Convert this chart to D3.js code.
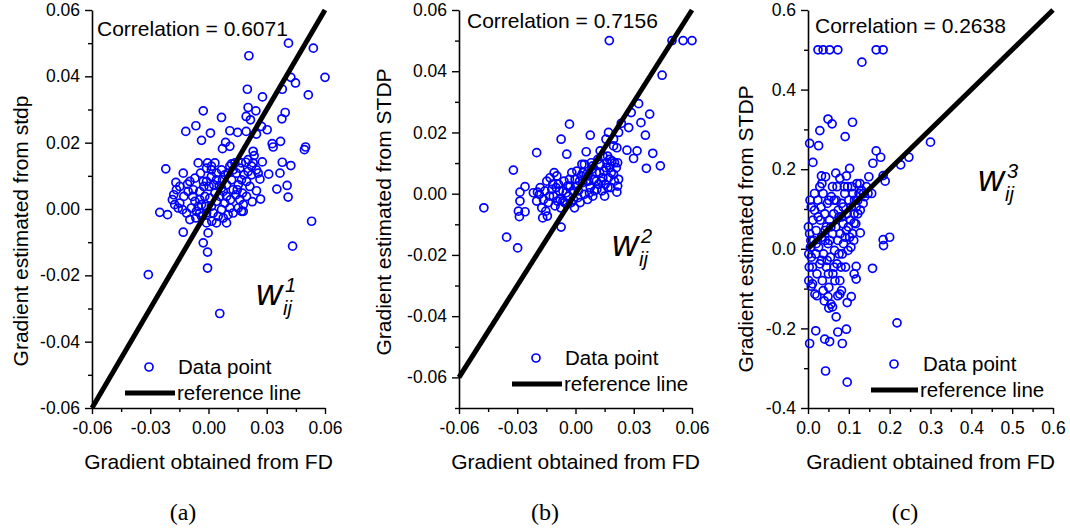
<!DOCTYPE html>
<html>
<head>
<meta charset="utf-8">
<script src="https://cdn.jsdelivr.net/npm/d3@7"></script>
<style>
  body { margin: 0; background: #fff; }
  text { font-family: "Liberation Sans", Arial, sans-serif; fill: #000; }
  .tick-label { font-size: 17.5px; }
  .axis-title { font-size: 21px; }
  .corr { font-size: 21px; }
  .legend { font-size: 20.5px; }
  .panel-tag { font-family: "Liberation Serif", "Times New Roman", serif; font-size: 24px; }
  .wlab { font-style: italic; }
</style>
</head>
<body>
<div id="chart"></div>
<script>
// data points: [gradient from FD, gradient estimated]
const pointsA = [
  [0.0412,0.050],[0.054,0.0485],[0.0208,0.0462],[0.060,0.0397],[0.0424,0.0397],[0.0448,0.038],
  [0.020,0.0361],[0.038,0.0361],[0.0514,0.0344],[0.0278,0.0338],[-0.0027,0.0296],[0.0395,0.0291],
  [0.0204,0.0306],[0.0244,0.0296],[0.0378,0.0272],[0.0067,0.0276],[0.0194,0.0279],[0.0216,0.0269],
  [-0.0065,0.0251],[-0.0117,0.0234],[0.001,0.0229],[0.011,0.0236],[0.015,0.0231],[0.0194,0.0234],
  [0.0273,0.0249],[0.0302,0.0239],[0.0247,0.0226],[-0.0036,0.0207],[0.0088,0.0201],[0.0072,0.0182],
  [0.011,0.0189],[0.0328,0.0197],[0.0371,0.0204],[0.0333,0.0187],[0.050,0.0187],[0.0494,0.0179],
  [0.023,0.0174],[0.0235,0.0161],[-0.022,0.0121],[-0.0053,0.0139],[-0.0005,0.0139],[0.0119,0.0136],
  [0.0192,0.0141],[0.0277,0.0142],[0.038,0.0141],[0.0424,0.0131],[0.031,0.0105],[0.0368,0.0108],
  [-0.013,0.0108],[-0.0168,0.008],[-0.0108,0.0075],[0.0265,0.009],[0.0405,0.0071],[0.0352,0.006],
  [0.0247,0.0055],[0.041,0.0036],[0.0268,0.003],[0.0225,0.0022],[-0.0186,0.0028],[-0.0174,0.0013],
  [-0.0251,-0.001],[-0.0211,-0.0017],[-0.013,-0.007],[0.0531,-0.0037],[-0.0027,-0.0102],[-0.0005,-0.013],
  [-0.0005,-0.0178],[-0.0002,-0.0072],[0.0433,-0.0112],[-0.031,-0.0198],[0.0058,-0.0315],[0.0017,-0.0037],
  [0.0179,-0.0007],[0.0101,-0.0017],[0.0067,-0.0002],
  [-0.0148,0.0068],[-0.0105,0.0053],[-0.0082,0.0038],[-0.0070,0.0023],[-0.0053,0.0008],[-0.0045,0.0053],
  [-0.0024,0.0068],[-0.0010,0.0083],[0.0015,0.0098],[0.0041,0.0088],[0.0055,0.0070],[0.0076,0.0053],
  [0.0093,0.0038],[0.0113,0.0028],[0.0127,0.0058],[0.0153,0.0073],[0.0170,0.0088],[0.0196,0.0083],
  [0.0213,0.0068],[0.0141,0.0043],[0.0161,0.0028],[0.0179,0.0013],[0.0101,0.0108],[0.0127,0.0118],
  [0.0161,0.0123],[0.0067,0.0118],[0.0041,0.0108],[0.0015,0.0118],[-0.0010,0.0123],[-0.0041,0.0108],
  [-0.0070,0.0093],[-0.0096,0.0083],[-0.0127,0.0038],[-0.0148,0.0018],[-0.0134,-0.0002],[-0.0113,-0.0012],
  [-0.0088,0.0003],[-0.0062,-0.0007],[-0.0036,-0.0022],[-0.0010,-0.0012],[0.0015,0.0008],[0.0041,0.0023],
  [0.0058,0.0038],[0.0084,0.0018],[0.0110,0.0003],[0.0033,0.0048],[0.0007,0.0033],[-0.0019,0.0038],
  [-0.0045,0.0028],[-0.0079,0.0058],[-0.0027,0.0083],[0.0003,0.0068],[0.0027,0.0073],[0.0072,0.0088],
  [0.0093,0.0073],[0.0119,0.0088],[0.0144,0.0108],[0.0182,0.0103],[0.0204,0.0113],[0.0230,0.0139],
  [0.0247,0.0118],[0.0222,0.0103],[-0.0045,-0.0012],[-0.0065,-0.0027],[-0.0096,-0.0032],[-0.0156,0.0003],
  [-0.0179,0.0043],[-0.0165,0.0058],[0.0024,-0.0012],[0.0050,-0.0022],[0.0076,-0.0027],[0.0127,-0.0012],
  [0.0153,0.0003],[0.0170,-0.0007],[0.0093,-0.0042],[0.0041,-0.0042],[-0.0010,-0.0042],[-0.0036,0.0013],
  [-0.0014,0.0008],[0.0067,0.0063],[0.0084,0.0103],[0.0110,0.0129],[0.0136,0.0139],[0.0170,0.0139],
  [0.0204,0.0149],[0.0222,0.0129],[0.0256,0.0108],[0.0196,0.0038],[0.0175,0.0048],[0.0148,0.0058],
  [0.0015,0.0129],[0.0033,0.0139]
];

const pointsB = [
  [0.0174,0.050],[0.0497,0.050],[0.0554,0.050],[0.060,0.050],[0.0446,0.0387],[0.0325,0.0294],
  [0.0287,0.0265],[0.0382,0.0260],[0.0236,0.0230],[0.0337,0.0232],[0.0274,0.0216],[0.0360,0.0191],
  [-0.0031,0.0227],[-0.0074,0.0178],[0.0076,0.0191],[0.0157,0.0178],[-0.0200,0.0134],[0.0055,0.0137],
  [0.0127,0.0140],[0.0213,0.0150],[0.0265,0.0142],[0.0317,0.0140],[0.0398,0.0132],[0.0299,0.0115],
  [0.0365,0.0083],[0.0437,0.0091],[-0.0320,0.0077],[-0.0260,0.0023],[-0.0286,0.0005],[-0.0286,-0.0024],
  [-0.0294,-0.0057],[-0.0289,-0.0075],[-0.0260,-0.0059],[-0.0472,-0.0046],[-0.0355,-0.0142],[-0.0298,-0.0177],
  [-0.0074,-0.0109],[-0.0169,-0.0079],[-0.0145,-0.0073],[-0.0045,0.0129],[0.0213,0.0005],[0.0217,0.0025],
  [0.0222,0.0047],[0.0217,0.0101],[0.0196,0.0156],[0.0170,0.0200],[0.0222,0.0200],[0.0196,0.0178],
  [-0.0217,0.0003],[-0.0200,-0.0024],[-0.0186,-0.0002],[-0.0165,-0.0019],[-0.0148,0.0041],[-0.0139,-0.0029],
  [-0.0122,0.0014],[-0.0114,-0.0008],[-0.0105,-0.0040],[-0.0096,0.0058],[-0.0088,0.0031],[-0.0079,-0.0019],
  [-0.0065,0.0009],[-0.0059,0.0041],[-0.0045,-0.0035],[-0.0036,-0.0008],[-0.0028,0.0025],[-0.0019,0.0069],
  [-0.0010,-0.0019],[-0.0002,0.0047],[0.0007,0.0074],[0.0015,0.0009],[0.0024,-0.0029],[0.0033,0.0096],
  [0.0038,0.0036],[0.0045,-0.0002],[0.0055,0.0063],[0.0062,-0.0019],[0.0067,0.0041],[0.0076,0.0020],
  [0.0084,0.0080],[0.0089,-0.0008],[0.0096,0.0047],[0.0107,0.0069],[0.0110,0.0014],[0.0119,0.0031],
  [0.0127,0.0096],[0.0136,0.0009],[0.0141,0.0052],[0.0148,0.0074],[0.0153,0.0031],[0.0162,0.0101],
  [0.0165,0.0123],[0.0170,0.0052],[0.0176,0.0085],[0.0182,0.0020],[0.0188,0.0107],[0.0196,0.0063],
  [0.0200,0.0041],[0.0210,0.0085],[-0.0182,0.0020],[-0.0157,0.0009],[-0.0134,-0.0008],[-0.0117,0.0031],
  [-0.0100,0.0020],[-0.0083,0.0009],[-0.0065,-0.0024],[-0.0048,0.0003],[-0.0031,0.0047],[-0.0014,0.0009],
  [0.0003,0.0025],[0.0021,0.0041],[0.0038,0.0069],[0.0055,0.0041],[0.0072,0.0003],[0.0089,0.0091],
  [0.0107,0.0041],[0.0124,0.0069],[0.0141,0.0123],[0.0158,0.0085],[0.0176,0.0112],[-0.0131,0.0052],
  [-0.0110,0.0069],[-0.0093,-0.0024],[-0.0076,-0.0046],[-0.0057,-0.0029],[-0.0040,0.0025],[-0.0022,-0.0029],
  [-0.0005,-0.0046],[0.0012,-0.0013],[0.0029,0.0058],[0.0046,0.0096],[0.0064,0.0058],[0.0081,0.0101],
  [0.0098,0.0009],[0.0115,0.0112],[0.0133,0.0041],[0.0150,-0.0008],[0.0167,0.0020],[0.0184,0.0069],
  [0.0201,0.0101],[-0.0196,0.0005],[-0.0174,-0.0046],[-0.0153,-0.0057]
];

const pointsC = [
  [0.0245,0.50],[0.037,0.50],[0.053,0.50],[0.073,0.50],[0.167,0.50],[0.184,0.50],[0.132,0.469],
  [0.049,0.326],[0.059,0.314],[0.109,0.318],[0.029,0.297],[0.091,0.282],[0.004,0.265],[0.026,0.259],
  [0.300,0.268],[0.012,0.217],[0.167,0.246],[0.178,0.230],[0.159,0.215],[0.227,0.211],[0.247,0.230],
  [0.189,0.170],[0.184,0.184],[0.218,-0.186],[0.200,0.029],[0.184,0.023],[0.185,0.008],
  [0.158,-0.049],[0.118,-0.044],[0.113,-0.063],[0.118,-0.076],[0.106,-0.120],[0.096,-0.135],[0.004,-0.238],
  [0.019,-0.206],[0.041,-0.227],[0.053,-0.233],[0.043,-0.307],[0.073,-0.209],[0.084,-0.238],[0.094,-0.202],
  [0.096,-0.335],[0.069,-0.171],[0.051,-0.149],[0.060,-0.146],[0.049,-0.120],[0.022,-0.118],[0.073,-0.118],
  [0.008,-0.094],[0.128,0.040],[0.113,0.065],[0.156,0.139],[0.139,0.131],[0.120,0.164],[0.078,0.177],
  [0.068,0.190],[0.102,0.202],[0.094,0.183],[0.043,0.181],[0.033,0.183],
  [0.004,0.038],[0.006,0.004],[0.008,-0.021],[0.011,-0.046],[0.012,0.072],[0.014,0.021],[0.016,0.097],
  [0.019,-0.013],[0.020,0.046],[0.022,-0.063],[0.024,0.122],[0.026,0.004],[0.029,-0.038],[0.030,0.072],
  [0.033,0.029],[0.035,-0.080],[0.037,0.139],[0.038,-0.013],[0.041,0.088],[0.042,0.046],[0.045,-0.046],
  [0.047,0.114],[0.049,0.013],[0.051,-0.097],[0.053,0.072],[0.055,-0.021],[0.057,0.131],[0.060,0.038],
  [0.061,-0.063],[0.063,0.088],[0.065,-0.004],[0.068,0.055],[0.069,0.122],[0.071,-0.038],[0.073,0.021],
  [0.076,0.080],[0.078,-0.080],[0.079,0.038],[0.082,0.114],[0.084,-0.013],[0.086,0.063],[0.087,0.013],
  [0.090,0.139],[0.092,-0.046],[0.094,0.046],[0.096,0.088],[0.098,-0.004],[0.100,0.122],[0.102,0.029],
  [0.104,0.072],[0.106,0.105],[0.109,0.038],[0.110,0.139],[0.113,0.088],[0.114,0.122],[0.117,0.063],
  [0.118,0.105],[0.122,0.122],[0.125,0.139],[0.128,0.097],[0.131,0.147],[0.135,0.114],[0.008,0.105],
  [0.011,-0.088],[0.016,0.139],[0.020,0.013],[0.025,0.080],[0.032,0.105],[0.037,-0.105],[0.042,0.021],
  [0.047,-0.029],[0.051,0.122],[0.056,0.055],[0.060,0.156],[0.066,-0.080],[0.071,0.156],[0.076,-0.013],
  [0.081,-0.046],[0.086,0.105],[0.091,0.029],[0.099,0.055],[0.105,0.004],[0.112,0.021],[0.122,0.088],
  [0.001,0.055],[0.002,-0.013],[0.003,-0.046],[0.005,0.122],[0.007,0.021],[0.029,0.156],[0.034,0.164],
  [0.045,0.055],[0.053,0.021],[0.064,0.122],[0.074,0.097],[0.082,0.080],[0.089,0.156],[0.097,0.156],
  [0.107,0.156],[0.127,0.164],[0.143,0.156],[0.147,0.139],[0.136,0.139],[0.149,0.181],[0.002,-0.080],
  [0.017,-0.114],[0.040,-0.131],[0.056,-0.139],[0.078,-0.114],[0.033,-0.029],[0.050,-0.063],[0.064,-0.046],
  [0.082,-0.105]
];

// tick values
const xMajorAB = [-0.06, -0.03, 0, 0.03, 0.06];
const xMinorAB = [-0.045, -0.015, 0.015, 0.045];
const yMajorAB = [-0.06, -0.04, -0.02, 0, 0.02, 0.04, 0.06];
const yMinorA = [-0.05, -0.03, -0.01, 0.01, 0.03, 0.05];
const yMinorB = [-0.07, -0.05, -0.03, -0.01, 0.01, 0.03, 0.05];
const xMajorC = [0, 0.1, 0.2, 0.3, 0.4, 0.5, 0.6];
const xMinorC = [0.05, 0.15, 0.25, 0.35, 0.45, 0.55];
const yMajorC = [-0.4, -0.2, 0, 0.2, 0.4, 0.6];
const yMinorC = [-0.3, -0.1, 0.1, 0.3, 0.5];

const correlations = ["0.6071", "0.7156", "0.2638"];
const yTitles = ["Gradient estimated from stdp", "Gradient estimated from STDP", "Gradient estimated from STDP"];
const tags = ["(a)", "(b)", "(c)"];
const supers = ["1", "2", "3"];

const svg = d3.select("#chart").append("svg")
  .attr("width", 1070)
  .attr("height", 529);

const panels = [
  {left: 92, right: 325, top: 10, bottom: 408, xd: [-0.06, 0.06], yd: [-0.06, 0.06], pts: pointsA,
   xMaj: xMajorAB, xMin: xMinorAB, yMaj: yMajorAB, yMin: yMinorA, fmt: ".2f", ref: [-0.06, 0.06],
   corr: [97, 36], ytx: 21, yty: 231, leg: [149, 367, 125, 175, 393], w: [256, 305], tagX: 183},
  {left: 459, right: 692, top: 10, bottom: 408, xd: [-0.06, 0.06], yd: [-0.07, 0.06], pts: pointsB,
   xMaj: xMajorAB, xMin: xMinorAB, yMaj: yMajorAB, yMin: yMinorB, fmt: ".2f", ref: [-0.06, 0.06],
   corr: [467, 28], ytx: 384, yty: 212, leg: [536, 358, 512, 562, 384], w: [612, 256], tagX: 545},
  {left: 808, right: 1053, top: 10, bottom: 408, xd: [0, 0.6], yd: [-0.4, 0.6], pts: pointsC,
   xMaj: xMajorC, xMin: xMinorC, yMaj: yMajorC, yMin: yMinorC, fmt: ".1f", ref: [0, 0.6],
   corr: [815, 33], ytx: 746, yty: 229, leg: [894, 364, 871, 918, 390], w: [978, 191], tagX: 905}
];

panels.forEach((p, i) => {
  const x = d3.scaleLinear().domain(p.xd).range([p.left, p.right]);
  const y = d3.scaleLinear().domain(p.yd).range([p.bottom, p.top]);
  // plain hyphen for negatives, like the original
  const fmt = v => d3.format(p.fmt)(v).replace("\u2212", "-");
  const g = svg.append("g");

  // x axis: major + minor
  g.append("g")
    .attr("transform", `translate(0, ${p.bottom})`)
    .call(d3.axisBottom(x).tickValues(p.xMaj).tickSizeInner(6).tickSizeOuter(0).tickPadding(8).tickFormat(fmt))
    .call(a => a.selectAll("text").attr("class", "tick-label").attr("font-size", null).attr("font-family", null))
    .call(a => a.select(".domain").attr("stroke-width", 1.6))
    .call(a => a.selectAll("line").attr("stroke-width", 1.4));
  g.append("g")
    .attr("transform", `translate(0, ${p.bottom})`)
    .call(d3.axisBottom(x).tickValues(p.xMin).tickSize(4).tickFormat(""))
    .call(a => a.select(".domain").remove())
    .call(a => a.selectAll("line").attr("stroke-width", 1.4));

  // y axis: major + minor
  g.append("g")
    .attr("transform", `translate(${p.left}, 0)`)
    .call(d3.axisLeft(y).tickValues(p.yMaj).tickSizeInner(7).tickSizeOuter(0).tickPadding(5).tickFormat(fmt))
    .call(a => a.selectAll("text").attr("class", "tick-label").attr("font-size", null).attr("font-family", null))
    .call(a => a.select(".domain").attr("stroke-width", 1.6))
    .call(a => a.selectAll("line").attr("stroke-width", 1.4));
  g.append("g")
    .attr("transform", `translate(${p.left}, 0)`)
    .call(d3.axisLeft(y).tickValues(p.yMin).tickSize(4).tickFormat(""))
    .call(a => a.select(".domain").remove())
    .call(a => a.selectAll("line").attr("stroke-width", 1.4));

  // points
  g.append("g").selectAll("circle")
    .data(p.pts)
    .join("circle")
    .attr("cx", d => x(d[0]))
    .attr("cy", d => y(d[1]))
    .attr("r", 4)
    .attr("fill", "none")
    .attr("stroke", "#0000ff")
    .attr("stroke-width", 1.7);

  // reference line y = x
  g.append("line")
    .attr("x1", x(p.ref[0])).attr("y1", y(p.ref[0]))
    .attr("x2", x(p.ref[1])).attr("y2", y(p.ref[1]))
    .attr("stroke", "#000")
    .attr("stroke-width", 5);

  // texts
  g.append("text")
    .attr("class", "corr")
    .attr("x", p.corr[0]).attr("y", p.corr[1])
    .text("Correlation = " + correlations[i]);

  g.append("text")
    .attr("class", "axis-title")
    .attr("text-anchor", "middle")
    .attr("x", (p.left + p.right) / 2)
    .attr("y", 469)
    .text("Gradient obtained from FD");

  g.append("text")
    .attr("class", "axis-title")
    .attr("text-anchor", "middle")
    .attr("transform", `translate(${p.ytx}, ${p.yty}) rotate(-90)`)
    .attr("dy", "0.35em")
    .text(yTitles[i]);

  g.append("text")
    .attr("class", "panel-tag")
    .attr("text-anchor", "middle")
    .attr("x", p.tagX).attr("y", 520)
    .text(tags[i]);

  // legend
  g.append("circle")
    .attr("cx", p.leg[0]).attr("cy", p.leg[1]).attr("r", 4)
    .attr("fill", "none").attr("stroke", "#0000ff").attr("stroke-width", 1.7);
  g.append("text").attr("class", "legend")
    .attr("x", p.leg[0] + 29).attr("y", p.leg[1]).attr("dy", "0.35em")
    .text("Data point");
  g.append("line")
    .attr("x1", p.leg[2]).attr("x2", p.leg[3])
    .attr("y1", p.leg[4]).attr("y2", p.leg[4])
    .attr("stroke", "#000").attr("stroke-width", 5);
  g.append("text").attr("class", "legend")
    .attr("x", p.leg[3] + 2).attr("y", p.leg[4]).attr("dy", "0.35em")
    .text("reference line");

  // w_ij^k label
  g.append("text").attr("class", "wlab")
    .attr("x", p.w[0]).attr("y", p.w[1])
    .style("font-size", "36px")
    .text("w");
  g.append("text").attr("class", "wlab")
    .attr("x", p.w[0] + 29).attr("y", p.w[1] - 13)
    .style("font-size", "20px")
    .text(supers[i]);
  g.append("text").attr("class", "wlab")
    .attr("x", p.w[0] + 27).attr("y", p.w[1] + 10)
    .style("font-size", "20px")
    .text("ij");
});
</script>
</body>
</html>
